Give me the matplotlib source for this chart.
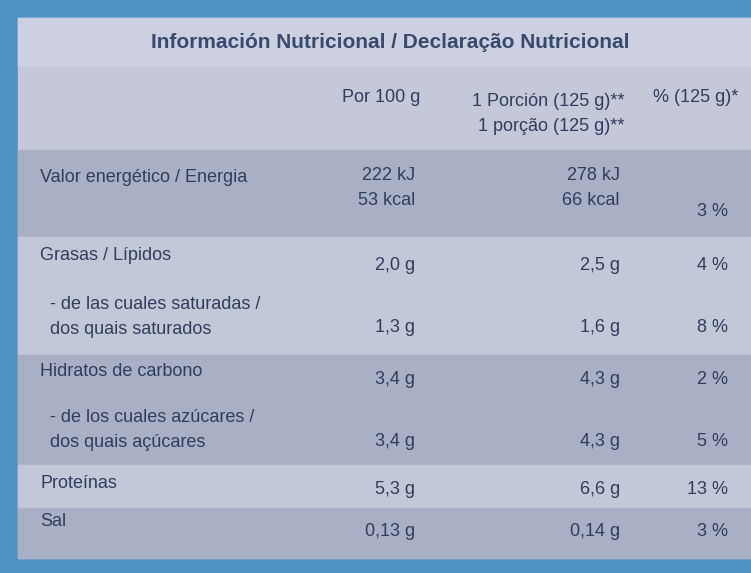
import matplotlib.pyplot as plt
from matplotlib.patches import Rectangle

title = "Información Nutricional / Declaração Nutricional"
col_headers = ["Por 100 g", "1 Porción (125 g)**\n1 porção (125 g)**", "% (125 g)*"]

nutrients = [
    "Valor energético / Energia",
    "Grasas / Lípidos",
    "  - de las cuales saturadas /\n  dos quais saturados",
    "Hidratos de carbono",
    "  - de los cuales azúcares /\n  dos quais açúcares",
    "Proteínas",
    "Sal",
]
per_100g = ["222 kJ\n53 kcal", "2,0 g", "1,3 g", "3,4 g", "3,4 g", "5,3 g", "0,13 g"]
per_portion = ["278 kJ\n66 kcal", "2,5 g", "1,6 g", "4,3 g", "4,3 g", "6,6 g", "0,14 g"]
percent = ["3 %", "4 %", "8 %", "2 %", "5 %", "13 %", "3 %"]

# vertical layout (pixels): label y, value y
label_y = [178, 256, 305, 372, 418, 484, 522]
value_y = [198, 266, 328, 380, 442, 490, 532]
bands = [(150, 237, "#a9b0c6"), (237, 355, "#c3c8d8"), (355, 465, "#a9b0c6"),
         (465, 508, "#c3c8d8"), (508, 558, "#a9b0c6")]

text_col = "#2f3d5e"
font = "Liberation Sans"
fig = plt.figure(figsize=(7.51, 5.73), dpi=100)
fig.patch.set_facecolor("#4f92c4")
ax = fig.add_axes([0, 0, 1, 1])
ax.set_xlim(0, 751)
ax.set_ylim(573, 0)
ax.axis("off")

ax.add_patch(Rectangle((18, 18), 733, 540, color="#c4c8d8"))
ax.add_patch(Rectangle((18, 18), 733, 48, color="#ccd0e0"))
for y0, y1, c in bands:
    ax.add_patch(Rectangle((18, y0), 733, y1 - y0, color=c))

fs = 13
ax.text(390, 42, title, ha="center", va="center", fontsize=15, fontweight="bold",
        color="#3a4a6e", fontfamily=font)
ax.text(420, 98, col_headers[0], ha="right", va="center", fontsize=fs, color=text_col,
        fontfamily=font)
ax.text(625, 114, col_headers[1], ha="right", va="center", fontsize=fs, color=text_col,
        fontfamily=font, linespacing=1.6, multialignment="right")
ax.text(738, 98, col_headers[2], ha="right", va="center", fontsize=fs, color=text_col,
        fontfamily=font)

for i, name in enumerate(nutrients):
    ax.text(40, label_y[i] if "\n" not in name else label_y[i] + 12, name, ha="left",
            va="center", fontsize=fs, color=text_col, fontfamily=font,
            linespacing=1.6)
    ax.text(415, value_y[i] if "\n" not in per_100g[i] else value_y[i] - 10, per_100g[i],
            ha="right", va="center", fontsize=fs, color=text_col,
            fontfamily=font, linespacing=1.6, multialignment="right")
    ax.text(620, value_y[i] if "\n" not in per_portion[i] else value_y[i] - 10, per_portion[i],
            ha="right", va="center", fontsize=fs, color=text_col,
            fontfamily=font, linespacing=1.6, multialignment="right")
    ax.text(728, value_y[i] + (14 if i == 0 else 0), percent[i], ha="right", va="center",
            fontsize=fs, color=text_col, fontfamily=font)

fig.savefig("out.png", dpi=100, facecolor=fig.get_facecolor())
